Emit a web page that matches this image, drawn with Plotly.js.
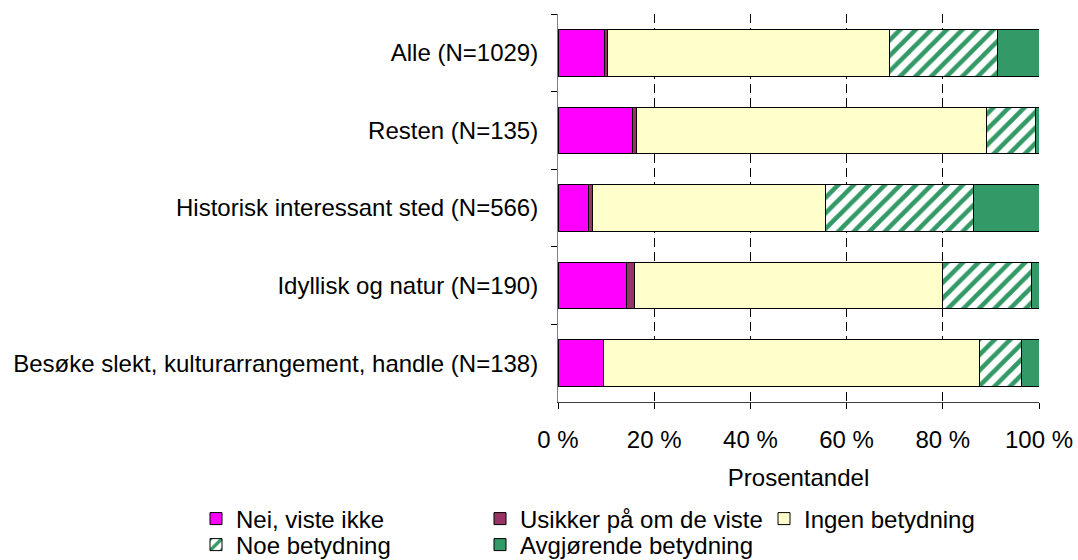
<!DOCTYPE html>
<html>
<head>
<meta charset="utf-8">
<script src="https://cdn.plot.ly/plotly-3.0.1.min.js"></script>
<style>html,body{margin:0;padding:0;background:#fff;}#chart{width:1078px;height:560px;}</style>
</head>
<body>
<div id="chart"></div>
<script>
const categories = [
  "Alle (N=1029)",
  "Resten (N=135)",
  "Historisk interessant sted (N=566)",
  "Idyllisk og natur (N=190)",
  "Besøke slekt, kulturarrangement, handle (N=138)"
];
const seriesNames = ["Nei, viste ikke", "Usikker på om de viste", "Ingen betydning", "Noe betydning", "Avgjørende betydning"];
const neiVisteIkke = [9.6, 15.5, 6.3, 14.2, 9.4];
const usikker = [0.6, 0.9, 0.9, 1.7, 0];
const ingenBetydning = [58.7, 72.7, 48.5, 64.0, 78.3];
const noeBetydning = [22.5, 10.1, 30.7, 18.5, 8.6];
const avgjorende = [8.6, 0.8, 13.6, 1.6, 3.7];
const xTickVals = [0, 20, 40, 60, 80, 100];
const xTickText = ["0 %", "20 %", "40 %", "60 %", "80 %", "100 %"];

const FONT = "Liberation Sans, Arial, sans-serif";
const FS = 24;
const line = {color: "#000", width: 1};

function bar(name, values, color, legendId, pattern) {
  const marker = {color: color, line: line};
  if (pattern) marker.pattern = pattern;
  return {type: "bar", orientation: "h", name: name, x: values, y: categories, marker: marker,
          hoverinfo: "skip", legend: legendId};
}

const data = [
  bar(seriesNames[0], neiVisteIkke, "#FF00FF", "legend"),
  bar(seriesNames[1], usikker, "#993366", "legend"),
  bar(seriesNames[2], ingenBetydning, "#FFFFCC", "legend"),
  bar(seriesNames[3], noeBetydning, "#FFFFFF", "legend2",
      {shape: "/", fgcolor: "#339966", bgcolor: "#FFFFFF", fgopacity: 1, size: 11, solidity: 0.42, fillmode: "replace"}),
  bar(seriesNames[4], avgjorende, "#339966", "legend2")
];

const legendCommon = {
  orientation: "h", xanchor: "left", yanchor: "middle",
  entrywidth: 239, entrywidthmode: "pixels", traceorder: "normal",
  font: {family: FONT, size: FS, color: "#000"}, bgcolor: "rgba(0,0,0,0)", borderwidth: 0
};
// plot area: x 558..1039 (481px), y 14..402 (388px)
const layout = {
  width: 1078, height: 560,
  margin: {l: 558, r: 39, t: 14, b: 158, pad: 0, autoexpand: false},
  paper_bgcolor: "#fff", plot_bgcolor: "#fff",
  font: {family: FONT, size: FS, color: "#000"},
  barmode: "stack",
  bargap: 0.4,
  showlegend: true,
  legend: Object.assign({}, legendCommon, {x: (196 - 558) / 481, y: (402 - 519) / 388}),
  legend2: Object.assign({}, legendCommon, {x: (196 - 558) / 481, y: (402 - 545) / 388}),
  xaxis: {
    range: [0, 100], tickvals: xTickVals, ticktext: xTickText,
    showgrid: true, gridcolor: "#000", gridwidth: 1, griddash: "9px,5px",
    zeroline: false, showline: true, linecolor: "#404040", linewidth: 1,
    ticks: "outside", ticklen: 6, tickcolor: "#000",
    ticklabelstandoff: 10,
    tickfont: {family: FONT, size: FS, color: "#000"},
    title: {text: "Prosentandel", font: {family: FONT, size: FS, color: "#000"}, standoff: 17},
    automargin: false,
    fixedrange: true
  },
  yaxis: {
    type: "category", categoryorder: "array", categoryarray: categories,
    autorange: "reversed",
    showgrid: false, zeroline: false, showline: true, linecolor: "#808080", linewidth: 1,
    ticks: "outside", tickson: "boundaries", ticklen: 6, tickcolor: "#000",
    ticklabelstandoff: 14,
    tickfont: {family: FONT, size: FS, color: "#000"},
    automargin: false,
    fixedrange: true
  }
};

Plotly.newPlot("chart", data, layout, {displayModeBar: false, staticPlot: true});
</script>
</body>
</html>
